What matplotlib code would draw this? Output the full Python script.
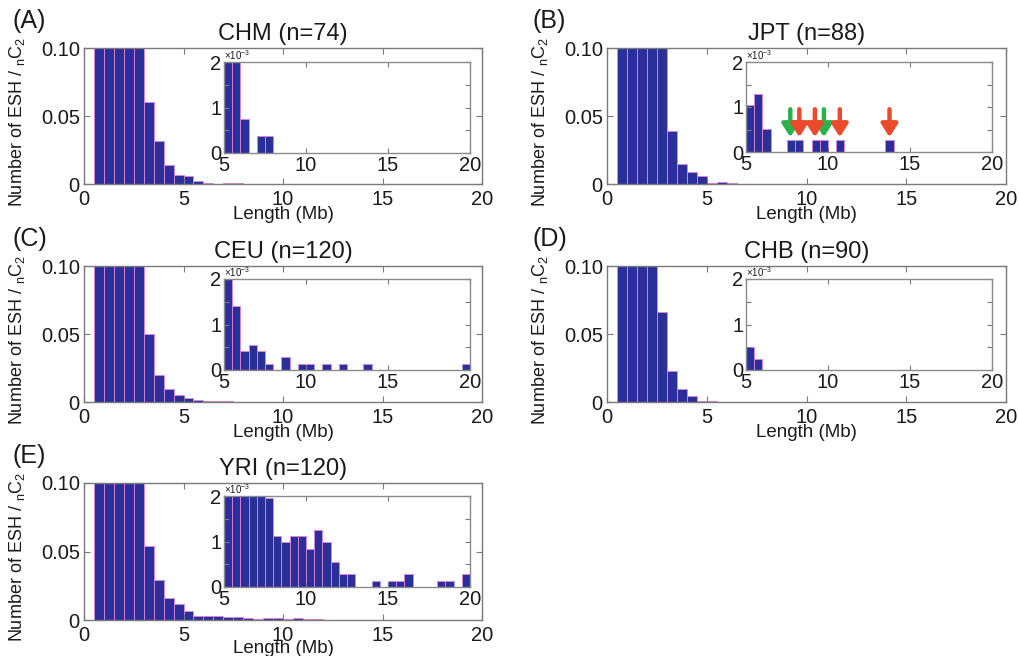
import numpy as np
import matplotlib
matplotlib.use("Agg")
import matplotlib.pyplot as plt

plt.rcParams['font.family'] = ['Liberation Sans', 'DejaVu Sans']
plt.rcParams['mathtext.fontset'] = 'custom'
plt.rcParams['mathtext.rm'] = 'Liberation Sans'
plt.rcParams['mathtext.it'] = 'Liberation Sans:italic'

# ---- data: ESH density per 0.5 Mb bin (left edges 0.5 ... 19.5 Mb) ----
bin_left = np.arange(0.5, 20.0, 0.5)

chm = [0.30, 0.25, 0.20, 0.15, 0.11, 0.060, 0.0317, 0.0137, 0.0068,
       0.0056, 0.0024, 0.00074, 0.0, 0.00037, 0.00037, 0.0, 0.0, 0.0, 0.0,
       0.0, 0.0, 0.0, 0.0, 0.0, 0.0, 0.0, 0.0, 0.0, 0.0, 0.0, 0.0, 0.0,
       0.0, 0.0, 0.0, 0.0, 0.0, 0.0, 0.0]
jpt = [0.30, 0.25, 0.20, 0.15, 0.11, 0.039, 0.0146, 0.0085, 0.0056,
       0.00104, 0.0013, 0.00052, 0.0, 0.0, 0.00026, 0.00026, 0.0, 0.00026,
       0.00026, 0.0, 0.00026, 0.0, 0.0, 0.0, 0.0, 0.0, 0.00026, 0.0, 0.0,
       0.0, 0.0, 0.0, 0.0, 0.0, 0.0, 0.0, 0.0, 0.0, 0.0]
ceu = [0.30, 0.26, 0.20, 0.15, 0.11, 0.050, 0.020, 0.0098, 0.0049,
       0.0028, 0.0014, 0.00042, 0.00056, 0.00042, 0.00014, 0.0, 0.00028,
       0.0, 0.00014, 0.00014, 0.0, 0.00014, 0.0, 0.00014, 0.0, 0.0,
       0.00014, 0.0, 0.0, 0.0, 0.0, 0.0, 0.0, 0.0, 0.0, 0.0, 0.0, 0.0,
       0.00014]
chb = [0.30, 0.25, 0.20, 0.13, 0.066, 0.023, 0.0095, 0.0041, 0.0010,
       0.0005, 0.00025, 0.0, 0.0, 0.0, 0.0, 0.0, 0.0, 0.0, 0.0, 0.0, 0.0,
       0.0, 0.0, 0.0, 0.0, 0.0, 0.0, 0.0, 0.0, 0.0, 0.0, 0.0, 0.0, 0.0,
       0.0, 0.0, 0.0, 0.0, 0.0]
yri = [0.30, 0.26, 0.20, 0.15, 0.11, 0.054, 0.029, 0.016, 0.0115,
       0.0068, 0.0032, 0.0030, 0.0027, 0.0024, 0.00196, 0.00112, 0.00098,
       0.00112, 0.00112, 0.00084, 0.00126, 0.00098, 0.00056, 0.00028,
       0.00028, 0.0, 0.0, 0.00014, 0.0, 0.00014, 0.00014, 0.00028, 0.0,
       0.0, 0.0, 0.00014, 0.00014, 0.0, 0.00028]

panel_labels = ['(A)', '(B)', '(C)', '(D)', '(E)']
titles = ['CHM (n=74)', 'JPT (n=88)', 'CEU (n=120)', 'CHB (n=90)', 'YRI (n=120)']
series = [chm, jpt, ceu, chb, yri]

# arrows in JPT inset (Mb)
green_arrows = [7.7, 9.75]
red_arrows = [8.25, 9.2, 10.72, 13.75]

W, H = 1019, 656
# main axes pixel boxes (left, top, right, bottom)
main_boxes = [(84, 48, 482, 184), (607, 48, 1006, 184),
              (84, 266, 482, 402), (607, 266, 1006, 402),
              (84, 483, 482, 620)]
inset_boxes = [(224, 62, 470, 153), (746, 62, 992, 152),
               (224, 279, 470, 370), (746, 279, 992, 370),
               (224, 496, 470, 587)]

BAR = '#2b2f9c'
EDGE = '#e486d2'
SPINE = '#7a7a7a'


def frac(box):
    l, t, r, b = box
    return [l / W, 1 - b / H, (r - l) / W, (b - t) / H]


fig = plt.figure(figsize=(W / 100, H / 100), dpi=100)

for i in range(5):
    vals = np.array(series[i])
    ax = fig.add_axes(frac(main_boxes[i]))
    ax.bar(bin_left, vals, width=0.5, align='edge', color=BAR,
           edgecolor=EDGE, linewidth=0.6)
    ax.set_xlim(0, 20)
    ax.set_ylim(0, 0.1)
    ax.set_xticks([0, 5, 10, 15, 20])
    ax.set_yticks([0, 0.05, 0.10])
    ax.set_yticklabels(['0', '0.05', '0.10'])
    ax.tick_params(direction='in', length=4, width=0.8, top=True, right=True,
                   color=SPINE, labelsize=14.5, labelcolor='#1a1a1a')
    ax.tick_params(axis='y', pad=3)
    ax.tick_params(axis='x', pad=4)
    for s in ax.spines.values():
        s.set_color(SPINE)
        s.set_linewidth(1.0)
    ax.set_title(titles[i], fontsize=17, pad=5.5, color='#1a1a1a')
    ax.set_xlabel('Length (Mb)', fontsize=13.5,
                  labelpad=(-3.2 if i == 4 else -2), color='#1a1a1a')
    ax.set_ylabel(r'Number of ESH / $_{\mathrm{n}}\mathrm{C}_{\mathrm{2}}$',
                  fontsize=13, color='#1a1a1a')
    ax.yaxis.set_label_coords(-0.143, 0.46)

    l, t, r, b = main_boxes[i]
    lx = 13 if l < 500 else 533
    fig.text(lx / W, 1 - (t - 20) / H, panel_labels[i], fontsize=18,
             va='baseline', ha='left', color='#1a1a1a')

    ins = fig.add_axes(frac(inset_boxes[i]))
    ins.set_facecolor('white')
    ins.bar(bin_left, vals, width=0.5, align='edge', color=BAR,
            edgecolor=EDGE, linewidth=0.6)
    ins.set_xlim(5, 20)
    ins.set_ylim(0, 2e-3)
    ins.set_xticks([5, 10, 15, 20])
    ins.set_yticks([0, 0.5e-3, 1e-3, 1.5e-3, 2e-3])
    ins.set_yticklabels(['0', '', '1', '', '2'])
    ins.tick_params(direction='in', length=3.5, width=0.8, top=True, right=True,
                    color=SPINE, labelsize=14.5, labelcolor='#1a1a1a', pad=2)
    for s in ins.spines.values():
        s.set_color('#8a8a8a')
        s.set_linewidth(1.0)
    ins.text(0.0, 1.005, r'×10$^{-3}$', transform=ins.transAxes, fontsize=7,
             ha='left', va='bottom', color='#1a1a1a')

    if i == 1:
        for xa in green_arrows:
            ins.annotate('', xy=(xa, 0.33e-3), xytext=(xa, 0.95e-3),
                         arrowprops=dict(arrowstyle='-|>,head_length=0.55,head_width=0.35',
                                         lw=3.2, color='#2bb24c', mutation_scale=14,
                                         shrinkA=0, shrinkB=0))
        for xa in red_arrows:
            ins.annotate('', xy=(xa, 0.33e-3), xytext=(xa, 0.95e-3),
                         arrowprops=dict(arrowstyle='-|>,head_length=0.55,head_width=0.35',
                                         lw=3.2, color='#ec4a2c', mutation_scale=14,
                                         shrinkA=0, shrinkB=0))

fig.savefig('out.png', dpi=100)
